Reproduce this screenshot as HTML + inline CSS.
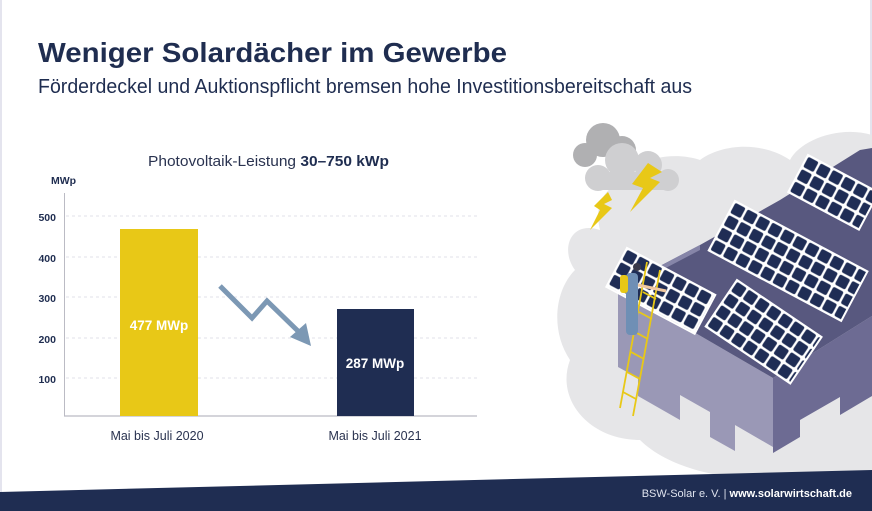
<!DOCTYPE html>
<html><head><meta charset="utf-8"><style>
html,body{margin:0;padding:0;background:#fff}
svg{display:block}
text{font-family:"Liberation Sans",sans-serif}
</style></head><body>
<svg width="872" height="511" viewBox="0 0 872 511" xmlns="http://www.w3.org/2000/svg">
<defs>
<pattern id="cells" width="14" height="14" patternUnits="userSpaceOnUse">
<rect width="14" height="14" fill="#fff"/><rect x="1.2" y="1.2" width="11.6" height="11.6" rx="2" fill="#1f2d55"/>
</pattern>
</defs>
<rect width="872" height="511" fill="#fff"/>
<rect x="0" y="0" width="2" height="511" fill="#e4e4ee"/>
<rect x="870" y="0" width="2" height="511" fill="#e4e4ee"/>
<!-- title -->
<text x="38" y="62" font-size="28" font-weight="bold" fill="#1f2d50" textLength="469" lengthAdjust="spacingAndGlyphs">Weniger Solardächer im Gewerbe</text>
<text x="38" y="93" font-size="20" fill="#1f2d50" textLength="654" lengthAdjust="spacingAndGlyphs">Förderdeckel und Auktionspflicht bremsen hohe Investitionsbereitschaft aus</text>
<!-- chart -->
<text x="148" y="166" font-size="15" fill="#2a3350" textLength="241" lengthAdjust="spacingAndGlyphs">Photovoltaik-Leistung <tspan font-weight="bold" fill="#1f2d50">30–750 kWp</tspan></text>
<text x="51" y="184" font-size="10.5" font-weight="bold" fill="#1f2d50">MWp</text>
<g stroke="#e2e2e8" stroke-width="1" stroke-dasharray="3,3">
<line x1="66" y1="216" x2="477" y2="216"/><line x1="66" y1="257" x2="477" y2="257"/><line x1="66" y1="297" x2="477" y2="297"/><line x1="66" y1="338" x2="477" y2="338"/><line x1="66" y1="378" x2="477" y2="378"/>
</g>
<g font-size="10.5" font-weight="bold" fill="#1f2d50" text-anchor="end">
<text x="56" y="221">500</text><text x="56" y="262">400</text><text x="56" y="302">300</text><text x="56" y="343">200</text><text x="56" y="383">100</text>
</g>
<line x1="64.5" y1="193" x2="64.5" y2="416" stroke="#bbbbc4" stroke-width="1"/>
<line x1="64" y1="416" x2="477" y2="416" stroke="#bbbbc4" stroke-width="1.2"/>
<rect x="120" y="229" width="78" height="187" fill="#e8c817"/>
<rect x="337" y="309" width="77" height="107" fill="#1f2d52"/>
<text x="159" y="330" font-size="13.5" font-weight="bold" fill="#fff" text-anchor="middle">477 MWp</text>
<text x="375" y="368" font-size="13.5" font-weight="bold" fill="#fff" text-anchor="middle">287 MWp</text>
<text x="157" y="440" font-size="12.5" fill="#2a3350" text-anchor="middle">Mai bis Juli 2020</text>
<text x="375" y="440" font-size="12.5" fill="#2a3350" text-anchor="middle">Mai bis Juli 2021</text>
<polyline points="220,286 252,318 267,301 300,333" fill="none" stroke="#7c98b4" stroke-width="5"/>
<polygon points="290,337 306,323 311,346" fill="#7c98b4"/>
<!-- illustration -->
<g>
<path d="M600,230 C570,220 560,250 575,270 C555,290 550,330 570,360 C555,400 590,440 640,440 C670,470 730,480 760,478 L872,478 L872,135 C840,125 800,140 790,160 C760,140 720,145 700,160 C670,150 630,160 615,185 C600,195 595,210 600,230 Z" fill="#e6e6e8"/>
<polygon points="618,288 618,367 638,378 638,396 680,420 680,395 710,412 710,437 735,451 735,425 773,447 773,378" fill="#9a98b6"/>
<polygon points="773,378 773,453 800,437 800,420 840,397 840,415 872,396 872,316" fill="#6d6b93"/>
<polygon points="618,288 700,245 780,200 860,150 872,148 872,316 773,378" fill="#58587f"/>
<polygon points="618,288 700,245 700,250 622,291" fill="#8685a8"/>
<g transform="translate(627,248) rotate(28)"><rect width="100" height="44" fill="url(#cells)" stroke="#fff" stroke-width="2"/></g>
<g transform="translate(735,201) rotate(28)"><rect width="150" height="56" fill="url(#cells)" stroke="#fff" stroke-width="2"/></g>
<g transform="translate(808,155) rotate(28)"><rect width="80" height="42" fill="url(#cells)" stroke="#fff" stroke-width="2"/></g>
<g transform="translate(737,280) rotate(34)"><rect width="102" height="56" fill="url(#cells)" stroke="#fff" stroke-width="2"/></g>
<g stroke="#e8c817" stroke-width="1.8">
<line x1="620" y1="408" x2="647" y2="262"/><line x1="633" y1="416" x2="660" y2="270"/>
<line x1="623" y1="392" x2="636" y2="399"/><line x1="627" y1="372" x2="640" y2="379"/><line x1="631" y1="352" x2="644" y2="359"/><line x1="635" y1="332" x2="648" y2="339"/><line x1="639" y1="312" x2="652" y2="319"/><line x1="643" y1="292" x2="656" y2="299"/>
</g>
<rect x="626" y="273" width="12" height="62" rx="4" fill="#6f8fb5"/>
<circle cx="637" cy="267" r="4" fill="#3a3a4a"/>
<rect x="620" y="275" width="8" height="18" rx="3" fill="#e8c817"/>
<line x1="638" y1="285" x2="666" y2="291" stroke="#f0c8a0" stroke-width="3"/>
<g fill="#b0b0b2"><circle cx="585" cy="155" r="12"/><circle cx="603" cy="140" r="17"/><circle cx="622" cy="150" r="14"/></g>
<g fill="#cfcfd1"><circle cx="598" cy="178" r="13"/><circle cx="622" cy="160" r="17"/><circle cx="648" cy="165" r="14"/><circle cx="668" cy="180" r="11"/><rect x="590" y="172" width="88" height="18" rx="9"/></g>
<polygon points="648,163 662,172 650,178 660,182 630,212 643,188 632,184" fill="#e8c817"/>
<polygon points="608,192 612,200 604,204 612,208 590,230 600,210 594,206" fill="#e8c817"/>
</g>
<!-- footer -->
<polygon points="0,492 872,470 872,511 0,511" fill="#1f2d52"/>
<text x="852" y="497" font-size="11" fill="#dfe3ee" text-anchor="end">BSW-Solar e. V. | <tspan font-weight="bold" fill="#fff">www.solarwirtschaft.de</tspan></text>
</svg>
</body></html>
